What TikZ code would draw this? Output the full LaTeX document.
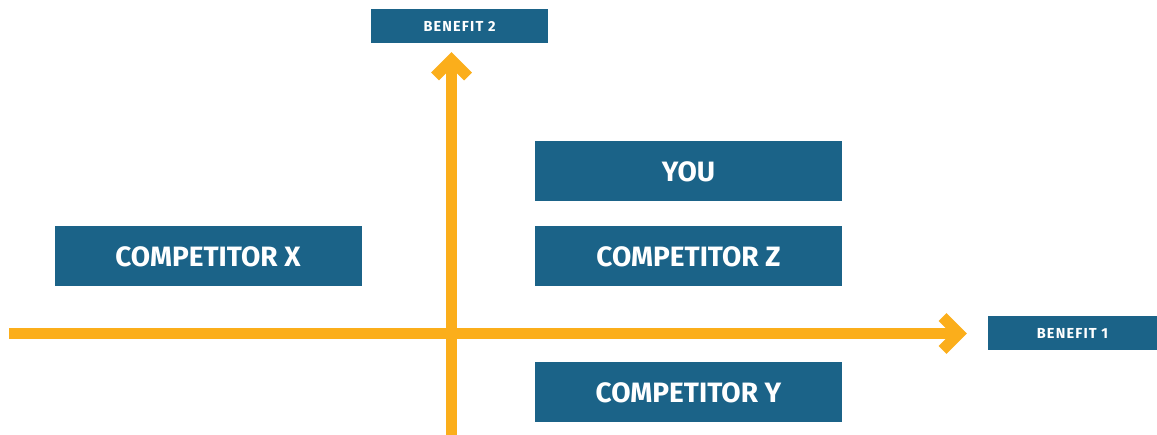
\documentclass[tikz,border=0pt]{standalone}
\usepackage{fontspec}
\setmainfont{Fira Sans}
\newfontfamily\tracked[LetterSpace=8]{Fira Sans}
\begin{document}
\definecolor{boxblue}{HTML}{1B6388}
\definecolor{axisorange}{HTML}{FBAE1B}
\begin{tikzpicture}[x=1pt,y=-1pt,
  bigbox/.style={fill=boxblue,text=white,inner sep=0pt,minimum width=307pt,minimum height=60pt,
    text height=22pt,text depth=0pt,
    font=\fontsize{28}{30}\selectfont\bfseries},
  smallbox/.style={fill=boxblue,text=white,inner sep=0pt,minimum height=34pt,
    font=\tracked\fontsize{14.5}{16}\selectfont\bfseries},
  axis/.style={draw=axisorange,line width=11pt},
  chevron/.style={draw=axisorange,line width=11pt,line join=miter,line cap=butt}]
\useasboundingbox (0,0) rectangle (1157,435);
% quadrant labels
\node[bigbox] (you) at (688.5,171) {YOU};
\node[bigbox] (compz) at (688.5,256) {COMPETITOR Z};
\node[bigbox] (compx) at (208,256) {COMPETITOR X};
\node[bigbox] (compy) at (688.5,392) {COMPETITOR Y};
% axis labels
\node[smallbox,minimum width=177pt] (ben2) at (459.5,26) {BENEFIT 2};
\node[smallbox,minimum width=169pt] (ben1) at (1072.5,333) {BENEFIT 1};
% axis end points
\coordinate (xstart) at (9,333.5);
\coordinate (xtip) at (959,333.5);
\coordinate (ystart) at (451.5,435);
\coordinate (ytip) at (451.5,60);
% axes
\draw[axis] (xstart) -- (xtip);
\draw[axis] (ystart) -- (ytip);
% arrow heads
\draw[chevron] ([shift={(-16.5,-16.5)}]xtip) -- (xtip) -- ([shift={(-16.5,16.5)}]xtip);
\draw[chevron] ([shift={(-16.5,16.5)}]ytip) -- (ytip) -- ([shift={(16.5,16.5)}]ytip);
\end{tikzpicture}
\end{document}
